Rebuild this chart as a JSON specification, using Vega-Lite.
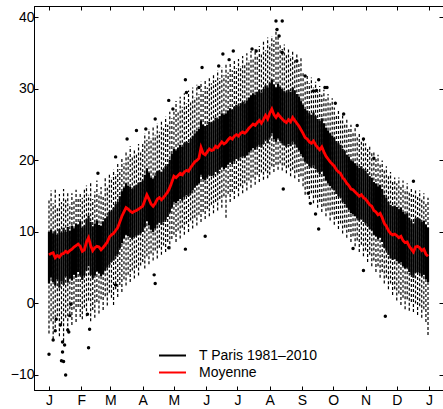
{
"$schema": "https://vega.github.io/schema/vega-lite/v6.json",
"width": 409, "height": 384,
"autosize": {"type": "none"},
"padding": {"left": 34, "top": 6, "right": 0, "bottom": 19},
"background": "white",
"config": {"view": {"stroke": "black", "strokeWidth": 1}, "font": "Liberation Sans",
 "axis": {"grid": false, "domainColor": "black", "tickColor": "black", "labelColor": "black", "labelFontSize": 14, "labelFont": "Liberation Sans", "tickSize": -4, "domainWidth": 1, "tickWidth": 1}},
"datasets": {
"box": [
{"d":1,"lo":-4.2,"q1":2.8,"q3":10.0,"hi":14.5,"m":6.8},
{"d":3,"lo":-2.5,"q1":3.6,"q3":10.3,"hi":15.8,"m":7.0},
{"d":5,"lo":-5.0,"q1":3.0,"q3":9.8,"hi":14.0,"m":7.1},
{"d":7,"lo":-3.4,"q1":2.5,"q3":10.1,"hi":16.2,"m":6.4},
{"d":9,"lo":-1.8,"q1":3.4,"q3":9.6,"hi":13.6,"m":6.7},
{"d":11,"lo":-4.6,"q1":2.2,"q3":10.4,"hi":15.3,"m":6.5},
{"d":13,"lo":-2.9,"q1":3.1,"q3":9.9,"hi":14.2,"m":6.9},
{"d":15,"lo":-5.3,"q1":2.6,"q3":10.6,"hi":16.0,"m":7.0},
{"d":17,"lo":-2.0,"q1":3.8,"q3":10.0,"hi":14.8,"m":7.3},
{"d":19,"lo":-3.9,"q1":2.9,"q3":10.7,"hi":15.6,"m":7.1},
{"d":21,"lo":-1.5,"q1":3.5,"q3":10.2,"hi":13.9,"m":7.4},
{"d":23,"lo":-3.0,"q1":3.2,"q3":10.9,"hi":15.4,"m":7.6},
{"d":25,"lo":-0.8,"q1":4.0,"q3":10.5,"hi":14.3,"m":7.9},
{"d":27,"lo":-2.6,"q1":3.6,"q3":11.2,"hi":15.9,"m":8.1},
{"d":29,"lo":-0.5,"q1":4.4,"q3":11.0,"hi":14.7,"m":8.3},
{"d":31,"lo":-1.9,"q1":3.9,"q3":11.5,"hi":15.5,"m":8.0},
{"d":33,"lo":-2.2,"q1":3.3,"q3":10.6,"hi":14.8,"m":7.3},
{"d":35,"lo":-0.6,"q1":3.9,"q3":10.9,"hi":15.9,"m":7.5},
{"d":37,"lo":-1.8,"q1":4.6,"q3":11.8,"hi":16.5,"m":8.6},
{"d":39,"lo":0.4,"q1":5.2,"q3":12.3,"hi":15.2,"m":9.2},
{"d":41,"lo":-2.5,"q1":4.0,"q3":11.4,"hi":16.8,"m":8.1},
{"d":43,"lo":-0.9,"q1":3.5,"q3":10.8,"hi":14.6,"m":7.4},
{"d":45,"lo":-2.0,"q1":3.9,"q3":11.2,"hi":15.7,"m":7.8},
{"d":47,"lo":0.2,"q1":4.5,"q3":11.6,"hi":17.2,"m":8.0},
{"d":49,"lo":-1.4,"q1":4.2,"q3":11.0,"hi":15.4,"m":7.9},
{"d":51,"lo":0.6,"q1":3.8,"q3":10.9,"hi":16.3,"m":7.5},
{"d":53,"lo":-0.9,"q1":4.1,"q3":11.5,"hi":14.9,"m":7.8},
{"d":55,"lo":1.0,"q1":4.6,"q3":11.9,"hi":17.8,"m":8.2},
{"d":57,"lo":-0.3,"q1":5.0,"q3":12.2,"hi":16.2,"m":8.6},
{"d":59,"lo":1.5,"q1":5.4,"q3":12.8,"hi":18.0,"m":9.3},
{"d":61,"lo":0.8,"q1":5.8,"q3":13.0,"hi":17.6,"m":9.6},
{"d":63,"lo":-0.2,"q1":6.0,"q3":13.4,"hi":18.7,"m":9.8},
{"d":65,"lo":2.0,"q1":6.6,"q3":13.9,"hi":18.1,"m":10.2},
{"d":67,"lo":0.9,"q1":6.9,"q3":14.2,"hi":19.5,"m":10.6},
{"d":69,"lo":2.6,"q1":7.7,"q3":15.0,"hi":18.8,"m":11.4},
{"d":71,"lo":1.6,"q1":8.4,"q3":15.7,"hi":20.3,"m":12.2},
{"d":73,"lo":3.4,"q1":9.1,"q3":16.2,"hi":19.6,"m":12.8},
{"d":75,"lo":2.5,"q1":9.6,"q3":16.8,"hi":21.4,"m":13.4},
{"d":77,"lo":4.0,"q1":9.4,"q3":16.5,"hi":20.8,"m":13.2},
{"d":79,"lo":3.0,"q1":9.2,"q3":16.3,"hi":22.0,"m":12.9},
{"d":81,"lo":4.6,"q1":9.0,"q3":16.0,"hi":20.5,"m":12.7},
{"d":83,"lo":3.5,"q1":9.3,"q3":16.4,"hi":21.6,"m":12.9},
{"d":85,"lo":5.0,"q1":9.5,"q3":16.6,"hi":20.9,"m":13.0},
{"d":87,"lo":3.9,"q1":9.6,"q3":16.9,"hi":22.3,"m":13.2},
{"d":89,"lo":5.3,"q1":9.8,"q3":17.0,"hi":21.2,"m":13.4},
{"d":91,"lo":5.8,"q1":10.0,"q3":17.2,"hi":22.4,"m":13.6},
{"d":93,"lo":4.9,"q1":10.7,"q3":18.0,"hi":23.8,"m":14.4},
{"d":95,"lo":6.6,"q1":11.5,"q3":18.9,"hi":22.9,"m":15.2},
{"d":97,"lo":5.5,"q1":10.9,"q3":18.3,"hi":24.4,"m":14.6},
{"d":99,"lo":7.0,"q1":10.3,"q3":17.6,"hi":23.1,"m":13.9},
{"d":101,"lo":6.0,"q1":10.0,"q3":17.4,"hi":24.9,"m":13.6},
{"d":103,"lo":7.4,"q1":10.5,"q3":17.9,"hi":23.6,"m":14.0},
{"d":105,"lo":6.3,"q1":11.0,"q3":18.5,"hi":25.2,"m":14.6},
{"d":107,"lo":7.8,"q1":11.3,"q3":18.6,"hi":24.0,"m":14.8},
{"d":109,"lo":6.8,"q1":11.0,"q3":18.4,"hi":25.6,"m":14.5},
{"d":111,"lo":8.1,"q1":11.4,"q3":18.8,"hi":24.5,"m":14.8},
{"d":113,"lo":7.2,"q1":11.7,"q3":19.2,"hi":26.1,"m":15.2},
{"d":115,"lo":8.6,"q1":12.1,"q3":19.5,"hi":25.0,"m":15.6},
{"d":117,"lo":7.6,"q1":12.7,"q3":20.1,"hi":26.8,"m":16.2},
{"d":119,"lo":9.0,"q1":13.4,"q3":20.9,"hi":25.9,"m":17.0},
{"d":121,"lo":9.6,"q1":14.2,"q3":21.6,"hi":27.0,"m":17.8},
{"d":123,"lo":8.6,"q1":14.0,"q3":21.4,"hi":28.3,"m":17.6},
{"d":125,"lo":10.2,"q1":14.3,"q3":21.8,"hi":26.8,"m":17.9},
{"d":127,"lo":9.1,"q1":14.6,"q3":22.2,"hi":28.9,"m":18.2},
{"d":129,"lo":10.6,"q1":14.4,"q3":21.9,"hi":27.5,"m":18.0},
{"d":131,"lo":9.6,"q1":14.9,"q3":22.4,"hi":29.4,"m":18.4},
{"d":133,"lo":11.1,"q1":15.1,"q3":22.6,"hi":28.0,"m":18.6},
{"d":135,"lo":10.0,"q1":15.0,"q3":22.5,"hi":29.8,"m":18.5},
{"d":137,"lo":11.6,"q1":15.4,"q3":23.0,"hi":28.4,"m":19.0},
{"d":139,"lo":10.5,"q1":15.8,"q3":23.4,"hi":30.2,"m":19.4},
{"d":141,"lo":12.0,"q1":16.2,"q3":23.8,"hi":28.8,"m":19.8},
{"d":143,"lo":10.9,"q1":16.5,"q3":24.1,"hi":30.6,"m":20.0},
{"d":145,"lo":12.4,"q1":16.8,"q3":24.4,"hi":29.3,"m":20.3},
{"d":147,"lo":11.4,"q1":18.0,"q3":25.6,"hi":31.0,"m":21.8},
{"d":149,"lo":12.8,"q1":17.4,"q3":25.0,"hi":29.7,"m":21.0},
{"d":151,"lo":11.8,"q1":17.2,"q3":24.8,"hi":31.4,"m":20.8},
{"d":153,"lo":13.2,"q1":17.6,"q3":25.0,"hi":30.2,"m":21.2},
{"d":155,"lo":12.2,"q1":18.0,"q3":25.4,"hi":31.6,"m":21.6},
{"d":157,"lo":13.8,"q1":17.8,"q3":25.3,"hi":30.8,"m":21.4},
{"d":159,"lo":12.6,"q1":17.9,"q3":25.5,"hi":32.2,"m":21.5},
{"d":161,"lo":14.2,"q1":18.4,"q3":26.0,"hi":31.2,"m":22.0},
{"d":163,"lo":13.0,"q1":18.2,"q3":25.8,"hi":32.6,"m":21.8},
{"d":165,"lo":14.6,"q1":18.7,"q3":26.2,"hi":31.5,"m":22.2},
{"d":167,"lo":13.4,"q1":19.1,"q3":26.6,"hi":33.0,"m":22.6},
{"d":169,"lo":15.0,"q1":18.8,"q3":26.4,"hi":31.9,"m":22.3},
{"d":171,"lo":12.0,"q1":19.0,"q3":26.6,"hi":33.4,"m":22.5},
{"d":173,"lo":15.3,"q1":19.4,"q3":27.0,"hi":32.3,"m":22.9},
{"d":175,"lo":14.2,"q1":19.7,"q3":27.3,"hi":33.6,"m":23.2},
{"d":177,"lo":15.6,"q1":19.5,"q3":27.1,"hi":32.6,"m":23.0},
{"d":179,"lo":14.6,"q1":19.9,"q3":27.5,"hi":34.0,"m":23.4},
{"d":181,"lo":16.0,"q1":20.2,"q3":27.8,"hi":32.9,"m":23.6},
{"d":183,"lo":15.0,"q1":20.0,"q3":27.6,"hi":34.2,"m":23.4},
{"d":185,"lo":16.4,"q1":20.4,"q3":28.0,"hi":33.2,"m":23.8},
{"d":187,"lo":15.4,"q1":20.6,"q3":28.2,"hi":34.6,"m":24.0},
{"d":189,"lo":16.8,"q1":20.4,"q3":28.0,"hi":33.6,"m":23.8},
{"d":191,"lo":15.8,"q1":20.7,"q3":28.4,"hi":35.0,"m":24.1},
{"d":193,"lo":17.2,"q1":21.1,"q3":28.8,"hi":34.0,"m":24.5},
{"d":195,"lo":16.2,"q1":21.4,"q3":29.1,"hi":35.3,"m":24.8},
{"d":197,"lo":17.6,"q1":21.7,"q3":29.4,"hi":34.4,"m":25.1},
{"d":199,"lo":16.6,"q1":21.5,"q3":29.2,"hi":35.6,"m":24.9},
{"d":201,"lo":18.0,"q1":21.9,"q3":29.6,"hi":34.8,"m":25.3},
{"d":203,"lo":17.0,"q1":22.2,"q3":29.9,"hi":36.0,"m":25.6},
{"d":205,"lo":18.3,"q1":21.8,"q3":29.5,"hi":35.1,"m":25.2},
{"d":207,"lo":17.3,"q1":22.3,"q3":30.0,"hi":36.6,"m":25.7},
{"d":209,"lo":18.5,"q1":22.9,"q3":30.5,"hi":35.4,"m":26.3},
{"d":211,"lo":17.5,"q1":22.4,"q3":30.2,"hi":37.2,"m":25.8},
{"d":213,"lo":18.0,"q1":23.2,"q3":30.8,"hi":36.2,"m":26.6},
{"d":215,"lo":19.2,"q1":23.8,"q3":31.3,"hi":37.4,"m":27.2},
{"d":217,"lo":18.4,"q1":23.0,"q3":30.6,"hi":36.8,"m":26.4},
{"d":219,"lo":19.4,"q1":22.6,"q3":30.2,"hi":38.4,"m":26.0},
{"d":221,"lo":18.7,"q1":23.1,"q3":30.7,"hi":37.6,"m":26.5},
{"d":223,"lo":19.6,"q1":22.7,"q3":30.3,"hi":36.4,"m":26.1},
{"d":225,"lo":18.6,"q1":22.4,"q3":30.0,"hi":35.6,"m":25.8},
{"d":227,"lo":19.3,"q1":22.1,"q3":29.7,"hi":36.2,"m":25.5},
{"d":229,"lo":18.2,"q1":21.9,"q3":29.5,"hi":35.0,"m":25.3},
{"d":231,"lo":19.0,"q1":22.3,"q3":29.9,"hi":35.8,"m":25.7},
{"d":233,"lo":17.8,"q1":22.0,"q3":29.6,"hi":34.6,"m":25.4},
{"d":235,"lo":18.7,"q1":22.6,"q3":30.2,"hi":35.4,"m":26.0},
{"d":237,"lo":17.5,"q1":22.2,"q3":29.8,"hi":34.2,"m":25.6},
{"d":239,"lo":18.3,"q1":21.8,"q3":29.3,"hi":34.9,"m":25.2},
{"d":241,"lo":17.0,"q1":21.4,"q3":28.9,"hi":33.6,"m":24.8},
{"d":243,"lo":17.8,"q1":20.9,"q3":28.3,"hi":34.3,"m":24.3},
{"d":245,"lo":16.4,"q1":20.4,"q3":27.8,"hi":32.4,"m":23.8},
{"d":247,"lo":15.2,"q1":19.8,"q3":27.2,"hi":31.2,"m":23.2},
{"d":249,"lo":16.0,"q1":19.6,"q3":27.0,"hi":32.0,"m":23.0},
{"d":251,"lo":14.6,"q1":19.2,"q3":26.6,"hi":30.8,"m":22.6},
{"d":253,"lo":15.4,"q1":19.0,"q3":26.4,"hi":31.6,"m":22.4},
{"d":255,"lo":14.0,"q1":19.3,"q3":26.7,"hi":30.2,"m":22.7},
{"d":257,"lo":14.8,"q1":18.8,"q3":26.2,"hi":31.0,"m":22.2},
{"d":259,"lo":13.4,"q1":18.4,"q3":25.8,"hi":29.6,"m":21.8},
{"d":261,"lo":14.2,"q1":18.1,"q3":25.5,"hi":30.4,"m":21.5},
{"d":263,"lo":12.8,"q1":18.5,"q3":25.9,"hi":29.2,"m":21.9},
{"d":265,"lo":13.6,"q1":17.8,"q3":25.2,"hi":29.9,"m":21.2},
{"d":267,"lo":12.2,"q1":17.2,"q3":24.6,"hi":28.6,"m":20.6},
{"d":269,"lo":13.0,"q1":16.8,"q3":24.2,"hi":29.3,"m":20.2},
{"d":271,"lo":11.6,"q1":16.4,"q3":23.8,"hi":28.0,"m":19.8},
{"d":273,"lo":12.4,"q1":16.1,"q3":23.5,"hi":28.7,"m":19.5},
{"d":275,"lo":11.0,"q1":15.8,"q3":23.2,"hi":27.4,"m":19.2},
{"d":277,"lo":11.8,"q1":15.3,"q3":22.7,"hi":26.2,"m":18.7},
{"d":279,"lo":10.4,"q1":15.0,"q3":22.4,"hi":27.0,"m":18.4},
{"d":281,"lo":11.2,"q1":14.8,"q3":22.2,"hi":25.8,"m":18.2},
{"d":283,"lo":9.8,"q1":14.2,"q3":21.6,"hi":26.4,"m":17.6},
{"d":285,"lo":10.6,"q1":13.9,"q3":21.3,"hi":25.2,"m":17.3},
{"d":287,"lo":9.2,"q1":13.4,"q3":20.8,"hi":25.8,"m":16.8},
{"d":289,"lo":10.0,"q1":13.1,"q3":20.5,"hi":24.6,"m":16.5},
{"d":291,"lo":8.6,"q1":12.6,"q3":20.0,"hi":25.0,"m":16.0},
{"d":293,"lo":9.4,"q1":12.5,"q3":19.9,"hi":24.0,"m":15.9},
{"d":295,"lo":8.0,"q1":12.2,"q3":19.6,"hi":24.5,"m":15.6},
{"d":297,"lo":8.8,"q1":11.9,"q3":19.3,"hi":23.4,"m":15.3},
{"d":299,"lo":7.2,"q1":11.6,"q3":19.0,"hi":23.9,"m":15.0},
{"d":301,"lo":8.2,"q1":11.8,"q3":19.2,"hi":22.8,"m":15.2},
{"d":303,"lo":6.6,"q1":11.4,"q3":18.8,"hi":23.3,"m":14.8},
{"d":305,"lo":7.4,"q1":11.2,"q3":18.6,"hi":22.4,"m":14.6},
{"d":307,"lo":5.8,"q1":10.8,"q3":18.2,"hi":21.6,"m":14.2},
{"d":309,"lo":6.8,"q1":10.4,"q3":17.8,"hi":22.0,"m":13.8},
{"d":311,"lo":5.2,"q1":10.2,"q3":17.6,"hi":21.0,"m":13.6},
{"d":313,"lo":6.0,"q1":9.6,"q3":17.0,"hi":21.4,"m":13.0},
{"d":315,"lo":4.4,"q1":9.4,"q3":16.8,"hi":20.2,"m":12.8},
{"d":317,"lo":5.2,"q1":9.0,"q3":16.4,"hi":20.8,"m":12.4},
{"d":319,"lo":3.6,"q1":9.2,"q3":16.6,"hi":19.6,"m":12.6},
{"d":321,"lo":4.4,"q1":8.6,"q3":16.0,"hi":20.0,"m":12.0},
{"d":323,"lo":2.8,"q1":7.8,"q3":15.2,"hi":18.8,"m":11.2},
{"d":325,"lo":3.6,"q1":7.4,"q3":14.8,"hi":19.2,"m":10.8},
{"d":327,"lo":2.0,"q1":6.8,"q3":14.2,"hi":18.0,"m":10.2},
{"d":329,"lo":2.8,"q1":6.3,"q3":13.8,"hi":18.4,"m":9.8},
{"d":331,"lo":1.2,"q1":6.1,"q3":13.6,"hi":17.2,"m":9.6},
{"d":333,"lo":2.0,"q1":6.2,"q3":13.7,"hi":17.6,"m":9.7},
{"d":335,"lo":0.4,"q1":5.9,"q3":13.5,"hi":16.8,"m":9.5},
{"d":337,"lo":1.4,"q1":5.6,"q3":13.2,"hi":17.6,"m":9.2},
{"d":339,"lo":-0.2,"q1":5.8,"q3":13.4,"hi":16.4,"m":9.4},
{"d":341,"lo":0.8,"q1":5.2,"q3":12.8,"hi":17.2,"m":8.8},
{"d":343,"lo":-0.8,"q1":4.9,"q3":12.5,"hi":16.0,"m":8.5},
{"d":345,"lo":0.6,"q1":5.0,"q3":12.6,"hi":16.8,"m":8.6},
{"d":347,"lo":-1.0,"q1":4.4,"q3":12.0,"hi":15.6,"m":8.0},
{"d":349,"lo":0.2,"q1":4.0,"q3":11.6,"hi":16.3,"m":7.6},
{"d":351,"lo":-1.2,"q1":3.6,"q3":11.2,"hi":15.2,"m":7.2},
{"d":353,"lo":0.0,"q1":4.3,"q3":11.9,"hi":16.0,"m":7.9},
{"d":355,"lo":-1.6,"q1":4.4,"q3":12.0,"hi":15.0,"m":8.0},
{"d":357,"lo":-0.4,"q1":4.2,"q3":11.8,"hi":15.8,"m":7.8},
{"d":359,"lo":-2.0,"q1":3.8,"q3":11.4,"hi":14.6,"m":7.4},
{"d":361,"lo":-0.8,"q1":4.0,"q3":11.6,"hi":15.4,"m":7.6},
{"d":363,"lo":-2.6,"q1":3.4,"q3":11.0,"hi":14.2,"m":6.9},
{"d":365,"lo":-4.4,"q1":3.0,"q3":10.6,"hi":14.8,"m":6.6}
],
"out": [
{"d":1,"v":-7.1},{"d":5,"v":-5.1},{"d":7,"v":-3.8},{"d":8,"v":-2.2},{"d":12,"v":-3.0},{"d":14,"v":-5.4},{"d":14,"v":-6.8},{"d":13,"v":-8.0},{"d":15,"v":-8.1},{"d":16,"v":-5.8},{"d":17,"v":-10.0},{"d":19,"v":-3.7},{"d":20,"v":-4.0},{"d":21,"v":-1.7},{"d":22,"v":-0.1},{"d":38,"v":-1.5},{"d":39,"v":-6.2},{"d":40,"v":-3.6},{"d":48,"v":18.2},{"d":65,"v":20.5},{"d":65,"v":2.6},{"d":76,"v":23.0},{"d":85,"v":24.2},{"d":94,"v":24.4},{"d":103,"v":25.8},{"d":102,"v":4.0},{"d":103,"v":2.8},{"d":116,"v":28.4},{"d":120,"v":27.2},{"d":116,"v":7.8},{"d":132,"v":31.3},{"d":133,"v":29.5},{"d":132,"v":7.6},{"d":148,"v":33.0},{"d":145,"v":30.2},{"d":151,"v":9.4},{"d":164,"v":33.2},{"d":168,"v":34.9},{"d":174,"v":34.1},{"d":178,"v":35.3},{"d":196,"v":35.6},{"d":200,"v":35.3},{"d":219,"v":39.5},{"d":220,"v":38.3},{"d":225,"v":39.5},{"d":222,"v":37.4},{"d":225,"v":35.1},{"d":226,"v":16.0},{"d":239,"v":33.9},{"d":247,"v":31.8},{"d":255,"v":29.7},{"d":258,"v":29.8},{"d":260,"v":31.3},{"d":266,"v":30.2},{"d":268,"v":30.2},{"d":276,"v":28.0},{"d":284,"v":26.5},{"d":297,"v":24.9},{"d":250,"v":15.4},{"d":252,"v":14.0},{"d":257,"v":12.5},{"d":260,"v":10.4},{"d":293,"v":7.7},{"d":303,"v":4.6},{"d":303,"v":23.0},{"d":313,"v":20.3},{"d":324,"v":-1.8},{"d":351,"v":17.1}
]
},
"layer": [
{"data": {"name": "box"},
 "mark": {"type": "rule", "strokeDash": [3, 2], "strokeWidth": 1.2, "color": "black"},
 "encoding": {
  "x": {"field": "d", "type": "quantitative", "scale": {"domain": [-13.4, 379.4], "nice": false, "zero": false},
   "axis": {"orient": "bottom", "title": null, "values": [1,32,60,91,121,152,182,213,244,274,305,335,366],
    "labelExpr": "['J','F','M','A','M','J','J','A','S','O','N','D','J'][indexof([1,32,60,91,121,152,182,213,244,274,305,335,366], datum.value)]",
    "labelPadding": 7}},
  "y": {"field": "lo", "type": "quantitative", "scale": {"domain": [-12.1, 41.6], "nice": false, "zero": false},
   "axis": {"orient": "left", "title": null, "values": [-10,0,10,20,30,40], "labelPadding": 4}},
  "y2": {"field": "hi"}}},
{"data": {"name": "box"},
 "mark": {"type": "rule", "strokeWidth": 2.2},
 "encoding": {
  "x": {"field": "d", "type": "quantitative", "axis": null},
  "y": {"field": "q1", "type": "quantitative", "axis": null},
  "y2": {"field": "q3"},
  "color": {"datum": "T Paris 1981–2010", "type": "nominal",
   "scale": {"domain": ["T Paris 1981–2010"], "range": ["#000000"]},
   "legend": {"orient": "none", "legendX": 124, "legendY": 335, "title": null, "symbolType": "stroke", "symbolSize": 729, "symbolStrokeWidth": 2, "labelFontSize": 14, "labelFont": "Liberation Sans", "labelColor": "black", "labelOffset": 12, "padding": 0}}}},
{"data": {"name": "box"},
 "mark": {"type": "line", "strokeWidth": 2.8},
 "encoding": {
  "x": {"field": "d", "type": "quantitative", "axis": null},
  "y": {"field": "m", "type": "quantitative", "axis": null},
  "stroke": {"datum": "Moyenne", "type": "nominal",
   "scale": {"domain": ["Moyenne"], "range": ["#ff0000"]},
   "legend": {"orient": "none", "legendX": 124, "legendY": 352, "title": null, "symbolType": "stroke", "symbolSize": 729, "symbolStrokeWidth": 2, "labelFontSize": 14, "labelFont": "Liberation Sans", "labelColor": "black", "labelOffset": 12, "padding": 0}}}},
{"data": {"name": "out"},
 "mark": {"type": "point", "filled": true, "size": 12, "color": "black", "opacity": 1},
 "encoding": {
  "x": {"field": "d", "type": "quantitative", "axis": {"orient": "top", "title": null, "labels": false, "values": [1,32,60,91,121,152,182,213,244,274,305,335,366]}},
  "y": {"field": "v", "type": "quantitative", "axis": {"orient": "right", "title": null, "labels": false, "values": [-10,0,10,20,30,40]}}}}
],
"resolve": {"axis": {"x": "independent", "y": "independent"}}
}
